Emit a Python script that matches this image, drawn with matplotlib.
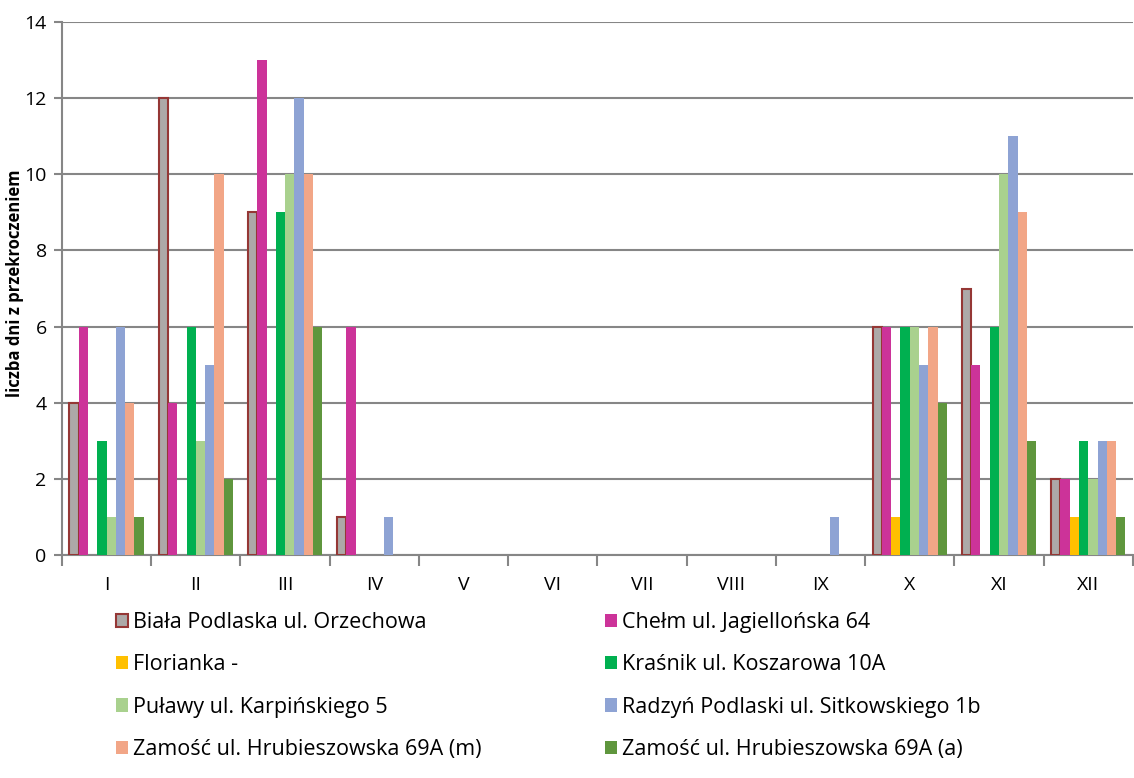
import matplotlib
matplotlib.use("Agg")
import matplotlib.pyplot as plt
import numpy as np
from matplotlib.patches import Patch

months = ["I", "II", "III", "IV", "V", "VI", "VII", "VIII", "IX", "X", "XI", "XII"]
series_names = [
    "Biała Podlaska ul. Orzechowa",
    "Chełm ul. Jagiellońska 64",
    "Florianka -",
    "Kraśnik ul. Koszarowa 10A",
    "Puławy ul. Karpińskiego 5",
    "Radzyń Podlaski ul. Sitkowskiego 1b",
    "Zamość ul. Hrubieszowska 69A (m)",
    "Zamość ul. Hrubieszowska 69A (a)",
]
biala = [4, 12, 9, 1, 0, 0, 0, 0, 0, 6, 7, 2]
chelm = [6, 4, 13, 6, 0, 0, 0, 0, 0, 6, 5, 2]
florianka = [0, 0, 0, 0, 0, 0, 0, 0, 0, 1, 0, 1]
krasnik = [3, 6, 9, 0, 0, 0, 0, 0, 0, 6, 6, 3]
pulawy = [1, 3, 10, 0, 0, 0, 0, 0, 0, 6, 10, 2]
radzyn = [6, 5, 12, 1, 0, 0, 0, 0, 1, 5, 11, 3]
zamosc_m = [4, 10, 10, 0, 0, 0, 0, 0, 0, 6, 9, 3]
zamosc_a = [1, 2, 6, 0, 0, 0, 0, 0, 0, 4, 3, 1]
all_series = [biala, chelm, florianka, krasnik, pulawy, radzyn, zamosc_m, zamosc_a]

colors = ["#ADA9A8", "#CC3399", "#FFC000", "#00B050", "#A9D18E", "#8EA3D4", "#F2A687", "#5F963D"]
edges = ["#953735"] + [None] * 7

plt.rcParams['font.family'] = ['Open Sans', 'DejaVu Sans']

fig = plt.figure(figsize=(11.34, 7.78), dpi=100)
ax = fig.add_axes([62 / 1134, 1 - 555 / 778, 1 - 62 / 1134 - 0.001, (555 - 22) / 778])

x = np.arange(len(months))
w = 0.104
n = len(all_series)
for i, (vals, c, e) in enumerate(zip(all_series, colors, edges)):
    offs = (i - (n - 1) / 2) * w
    vals_arr = np.array(vals, dtype=float)
    mask = vals_arr > 0
    if e:
        ax.bar(x[mask] + offs, vals_arr[mask], width=w, color=c, edgecolor=e, linewidth=1.5, zorder=3)
    else:
        ax.bar(x[mask] + offs, vals_arr[mask], width=w, color=c, linewidth=0, zorder=3)

ax.set_xlim(-0.5, len(months) - 0.5)
ax.set_ylim(0, 14)
ax.set_yticks(np.arange(0, 15, 2))
ax.yaxis.grid(True, color="#868686", linewidth=1.5, zorder=0)
ax.set_axisbelow(True)
ax.set_xticks(x)
ax.set_xticklabels(months, fontsize=14)
ax.tick_params(axis='x', length=0, pad=15)
ax.set_xticks(np.arange(-0.5, len(months), 1), minor=True)
ax.tick_params(axis='x', which='minor', length=8, color="#868686", width=1.5)
ax.tick_params(axis='y', labelsize=14, length=6, color="#868686", width=1.5, pad=5)
for s in ["top", "right"]:
    ax.spines[s].set_visible(False)
for s in ["left", "bottom"]:
    ax.spines[s].set_color("#868686")
    ax.spines[s].set_linewidth(1.5)

fig.text(15 / 1134, 1 - 283 / 778, "liczba dni z przekroczeniem", rotation=90,
         fontsize=12, fontweight='bold', ha='center', va='center')

handles = []
for i, (c, e) in enumerate(zip(colors, edges)):
    if e:
        handles.append(Patch(facecolor=c, edgecolor=e, linewidth=1.5))
    else:
        handles.append(Patch(facecolor=c, edgecolor='none'))

common = dict(frameon=False, fontsize=15.5, handlelength=0.58, handleheight=0.58,
              handletextpad=0.2, labelspacing=0.99, borderaxespad=0, borderpad=0)
leg1 = fig.legend([handles[i] for i in [0, 2, 4, 6]], [series_names[i] for i in [0, 2, 4, 6]],
                  loc='upper left', bbox_to_anchor=(116 / 1134, 1 - 612 / 778), **common)
leg2 = fig.legend([handles[i] for i in [1, 3, 5, 7]], [series_names[i] for i in [1, 3, 5, 7]],
                  loc='upper left', bbox_to_anchor=(605 / 1134, 1 - 612 / 778), **common)

fig.savefig("out.png", dpi=100)
